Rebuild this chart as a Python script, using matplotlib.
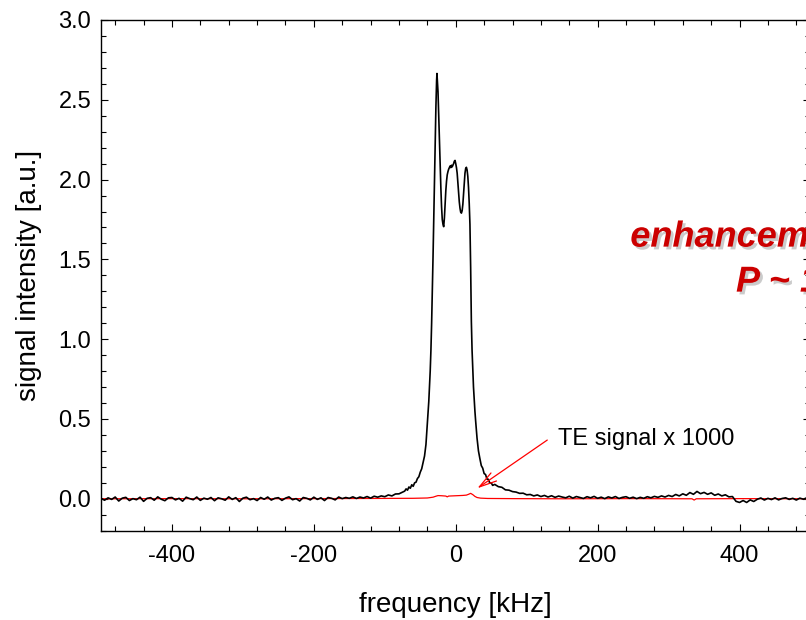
import numpy as np
import matplotlib
matplotlib.use("Agg")
import matplotlib.pyplot as plt
from matplotlib.ticker import MultipleLocator, FormatStrFormatter
import matplotlib.patheffects as pe

plt.rcParams['font.family'] = ['Liberation Sans', 'DejaVu Sans']
plt.rcParams['axes.unicode_minus'] = False

# ---- data ----
# black: DNP enhanced signal, left baseline (-500 .. -75 step 5)
freq_left = np.arange(-500, -74, 5)
sig_left = [0.003, -0.009, 0.006, -0.004, 0.011, -0.014, 0.004, 0.009, -0.011, 0.001,
            -0.006, 0.010, -0.016, 0.003, 0.007, -0.009, 0.012, -0.003, -0.012, 0.006,
            0.008, -0.007, 0.003, -0.015, 0.010, 0.001, -0.006, 0.011, -0.010, 0.004,
            -0.003, 0.008, -0.012, 0.006, 0.000, -0.009, 0.012, -0.004, 0.007, -0.017,
            0.004, 0.010, -0.006, 0.001, -0.011, 0.008, -0.003, 0.011, -0.008, 0.003,
            0.007, -0.010, 0.004, 0.012, -0.006, 0.001, -0.014, 0.008, 0.003, -0.007,
            0.010, -0.004, 0.006, -0.011, 0.008, 0.003, -0.007, 0.011, 0.001, 0.008,
            0.003, 0.012, 0.002, 0.011, 0.005, 0.014, 0.004, 0.016, 0.010, 0.018,
            0.013, 0.024, 0.018, 0.030, 0.031, 0.042]

# black: central line (-72 .. 52)
freq_peak = [-72, -70, -68, -66, -64, -62, -60, -58, -56, -54, -52, -50, -48, -46, -44, -42,
             -40, -38, -36, -35, -34, -33, -32, -31, -30, -29, -28, -27, -26.5, -26, -25,
             -24, -23, -22, -21, -20, -19, -18, -17, -16, -15, -14, -13, -12, -11, -10,
             -9, -8, -7, -6, -5, -4, -3, -2, -1, 0, 1, 2, 3, 4, 5, 6, 7, 8, 9, 10, 11,
             12, 13, 14, 15, 16, 17, 18, 19, 20, 21, 22, 23, 24, 25, 26, 27, 28, 30, 32,
             34, 36, 38, 40, 42, 44, 46, 48, 50, 52]
sig_peak = [0.048, 0.062, 0.054, 0.074, 0.066, 0.088, 0.078, 0.100, 0.104, 0.127, 0.138, 0.167,
            0.188, 0.227, 0.268, 0.340,
            0.470, 0.610, 0.800, 0.930, 1.100, 1.300, 1.520, 1.750, 1.980, 2.220, 2.450,
            2.620, 2.665, 2.630, 2.550,
            2.400, 2.250, 2.100, 1.950, 1.830, 1.750, 1.720, 1.705, 1.760, 1.850, 1.930,
            1.990, 2.030, 2.050, 2.065,
            2.075, 2.085, 2.075, 2.090, 2.080, 2.090, 2.100, 2.115, 2.120, 2.100, 2.075,
            2.040, 1.980, 1.920, 1.860, 1.820, 1.795, 1.790, 1.805, 1.845, 1.910,
            1.980, 2.040, 2.070, 2.077, 2.060, 2.020, 1.950, 1.850, 1.720, 1.450, 1.110,
            0.930, 0.810, 0.700, 0.620, 0.550, 0.490, 0.380, 0.300,
            0.252, 0.208, 0.192, 0.158, 0.152, 0.123, 0.122, 0.098, 0.100, 0.084]

# black: right baseline (55 .. 500 step 5)
freq_right = np.arange(55, 501, 5)
sig_right = [0.090, 0.076, 0.072, 0.056, 0.054, 0.045, 0.042, 0.034, 0.035, 0.025,
             0.027, 0.018, 0.024, 0.014, 0.021, 0.011, 0.019, 0.009, 0.017, 0.011,
             0.006, 0.016, 0.004, 0.014, 0.008, 0.002, 0.013, 0.006, 0.015, 0.003,
             0.010, 0.001, 0.012, 0.005, 0.014, 0.002, 0.009, 0.013, 0.003, 0.010,
             0.001, 0.009, 0.003, 0.013, 0.006, 0.015, 0.009, 0.018, 0.011, 0.021,
             0.014, 0.027, 0.018, 0.031, 0.022, 0.039, 0.028, 0.046, 0.032, 0.040,
             0.028, 0.037, 0.022, 0.030, 0.018, 0.025, 0.012, 0.014, -0.016, -0.023,
             -0.011, -0.023, -0.007, -0.017, -0.003, 0.005, -0.008, 0.003, -0.005, 0.006,
             -0.007, 0.002, 0.006, -0.004, 0.003, -0.008, 0.004, -0.003, 0.007, -0.001]

# red: thermal-equilibrium signal x 1000
freq_te = [-500, -400, -300, -200, -120, -60, -40, -32, -28, -25, -20, -14, -12, -10, -5,
           0, 5, 10, 15, 18, 21, 24, 27, 30, 35, 45, 80, 150, 250, 333, 336, 339, 400, 500]
sig_te = [0.000, 0.001, 0.000, 0.001, 0.002, 0.003, 0.005, 0.010, 0.016, 0.020, 0.019,
          0.017, 0.012, 0.017, 0.018, 0.019, 0.020, 0.021, 0.023, 0.028, 0.034, 0.026,
          0.015, 0.008, 0.004, 0.002, 0.001, 0.000, 0.001, 0.000, -0.008, 0.000, 0.001, 0.000]

xticks = [-400, -200, 0, 200, 400]
yticks = [0.0, 0.5, 1.0, 1.5, 2.0, 2.5, 3.0]

freq = np.concatenate([freq_left, freq_peak, freq_right])
sig = np.concatenate([sig_left, sig_peak, sig_right])

W, H = 806, 620
fig = plt.figure(figsize=(W / 100, H / 100), dpi=100)
ax = fig.add_axes([101 / W, (H - 530.7) / H, (810.5 - 101) / W, (530.7 - 20) / H])

ax.plot(freq_te, sig_te, color='#ff0000', lw=0.9, zorder=2)
ax.plot(freq, sig, color='black', lw=1.2, zorder=3)

ax.set_xlim(-500, 500)
ax.set_ylim(-0.2, 3.0)
ax.set_xticks(xticks)
ax.set_yticks(yticks)
ax.xaxis.set_minor_locator(MultipleLocator(40))
ax.yaxis.set_minor_locator(MultipleLocator(0.1))
ax.yaxis.set_major_formatter(FormatStrFormatter('%.1f'))
ax.tick_params(which='both', direction='in', top=True, right=True, width=0.8)
ax.tick_params(which='major', length=5.3, labelsize=17)
ax.tick_params(which='minor', length=3.4)
ax.tick_params(axis='x', which='major', pad=10)
ax.tick_params(axis='y', which='major', pad=7)
for s in ax.spines.values():
    s.set_linewidth(1.0)

ax.set_xlabel('frequency [kHz]', fontsize=20, labelpad=18)
ax.set_ylabel('signal intensity [a.u.]', fontsize=20, labelpad=12)

# annotation
ax.annotate('', xy=(30.5, 0.066), xytext=(129, 0.368),
            arrowprops=dict(arrowstyle='->,head_length=0.9,head_width=0.25',
                            color='#ff0000', lw=0.9, shrinkA=0, shrinkB=0,
                            mutation_scale=14))
ax.text(143.5, 0.337, 'TE signal x 1000', fontsize=17, ha='left', va='baseline')

shadow = [pe.withSimplePatchShadow(offset=(2, -2), shadow_rgbFace='#999999', alpha=0.5)]
ax.text(246, 1.58, 'enhancement ~ 300', fontsize=26, fontweight='bold', style='italic',
        color='#cc0000', ha='left', va='baseline', path_effects=shadow, clip_on=False)
ax.text(395, 1.298, 'P ~ 10 %', fontsize=26, fontweight='bold', style='italic',
        color='#cc0000', ha='left', va='baseline', path_effects=shadow, clip_on=False)

fig.savefig('out.png', dpi=100)
